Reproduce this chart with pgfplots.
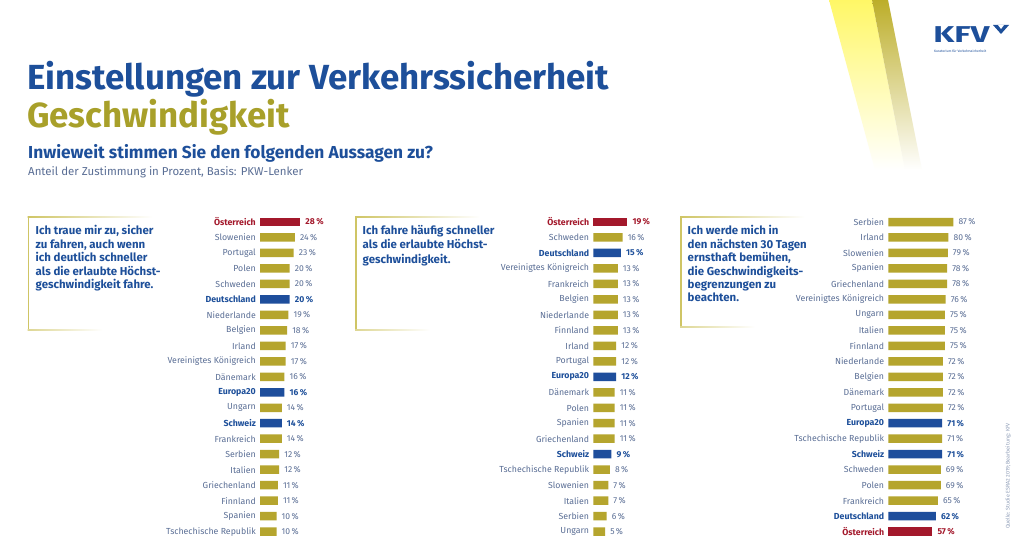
\documentclass[border=0pt]{standalone}
\usepackage{pgfplots}
\pgfplotsset{compat=1.18}
\usepackage{fontspec}
\setmainfont{Fira Sans}
\definecolor{tblue}{HTML}{1D4F9A}
\definecolor{tolive}{HTML}{A8A02A}
\definecolor{barol}{HTML}{B5A52E}
\definecolor{barbl}{HTML}{1E4E9C}
\definecolor{barrd}{HTML}{A3182B}
\definecolor{labgray}{HTML}{5A6E95}
\definecolor{boxol}{HTML}{CFC565}
\newcommand\lblfont{\fontsize{8.8}{10}\selectfont}
\newcommand\valfont{\fontsize{8.6}{10}\selectfont}
\newcommand\HB[1]{{\bfseries\color{tblue}#1}}
\newcommand\HR[1]{{\bfseries\color{barrd}#1}}
\pgfplotsset{
  /pgf/number format/assume math mode=true,
  panel/.style={
    xbar, bar width=8.5bp, y dir=reverse, ymin=-0.5, ymax=20.5, xmin=0,
    y=15.48bp, anchor=north west, clip=false,
    xtick=\empty, ytick={0,...,20}, axis line style={draw=none},
    major tick length=0pt,
    yticklabel style={font=\lblfont, color=labgray, inner sep=0pt, anchor=east, xshift=-4bp},
    point meta=explicit,
  },
  pb/.style={xbar, bar shift=0pt, draw=none, fill=#1,
    nodes near coords={\pgfmathprintnumber{\pgfplotspointmeta}\,\%},
    every node near coord/.style={anchor=west, font=\valfont, color=labgray, inner sep=0pt, xshift=5bp}},
  pbh/.style={pb=#1, every node near coord/.append style={font=\valfont\bfseries, color=tblue}},
  pbr/.style={pb=#1, every node near coord/.append style={font=\valfont\bfseries, color=barrd}},
}
\begin{document}
\begin{tikzpicture}[x=1bp,y=-1bp]
\useasboundingbox[fill=white] (0,0) rectangle (1024,553);
% decorative stripe
\shade[top color=yellow!90!orange!60, bottom color=white] (829,0) -- (872,0) -- (905,170) -- (875,170) -- cycle;
\shade[top color=barol!90!yellow, bottom color=white] (872,0) -- (888,0) -- (922,170) -- (905,170) -- cycle;
% logo
\node[anchor=base west, inner sep=0pt, text=tblue, font=\fontsize{23}{23}\selectfont\bfseries, xscale=1.45] at (933,43) {KFV};
\fill[tblue] (993,25) -- (1009,25) -- (1001,34) -- cycle;
\fill[white] (998,25) -- (1004,25) -- (1001,29) -- cycle;
\node[anchor=base west, inner sep=0pt, text=tblue, font=\fontsize{3.4}{4}\selectfont] at (934,53) {Kuratorium für Verkehrssicherheit};
% titles
\node[anchor=base west, inner sep=0pt, text=tblue, font=\fontsize{35}{38}\selectfont\bfseries] at (27,90) {Einstellungen zur Verkehrssicherheit};
\node[anchor=base west, inner sep=0pt, text=tolive, font=\fontsize{35}{38}\selectfont\bfseries] at (27,128) {Geschwindigkeit};
\node[anchor=base west, inner sep=0pt, text=tblue, font=\fontsize{17.4}{19}\selectfont\bfseries] at (28,159) {Inwieweit stimmen Sie den folgenden Aussagen zu?};
\node[anchor=base west, inner sep=0pt, text=labgray, font=\fontsize{11.5}{13}\selectfont] at (28,176) {Anteil der Zustimmung in Prozent, Basis: PKW-Lenker};
% source
\node[rotate=90, inner sep=0pt, text=labgray!70, font=\fontsize{5.3}{6}\selectfont] at (1008,476) {Quelle: Studie ESRA2 2019; Bearbeitung: KFV};
% boxes
\foreach \bx/\by in {27.5/331, 355/331, 680/328}{
  \fill[boxol] (\bx,216.5) rectangle (\bx+1.5,\by);
  \shade[left color=boxol, right color=white] (\bx,216.5) rectangle (\bx+125,218);
  \shade[left color=boxol!70, right color=white] (\bx,\by-1.5) rectangle (\bx+75,\by);
}
\node[anchor=north west, inner sep=0pt, align=left, text=tblue, font=\fontsize{11.5}{13.4}\selectfont\bfseries] at (35.5,225.5) {Ich traue mir zu, sicher\\zu fahren, auch wenn\\ich deutlich schneller\\als die erlaubte Höchst-\\geschwindigkeit fahre.};
\node[anchor=north west, inner sep=0pt, align=left, text=tblue, font=\fontsize{11.5}{14.2}\selectfont\bfseries] at (362.5,225.5) {Ich fahre häufig schneller\\als die erlaubte Höchst-\\geschwindigkeit.};
\node[anchor=north west, inner sep=0pt, align=left, text=tblue, font=\fontsize{11.5}{13.4}\selectfont\bfseries] at (687.5,225.5) {Ich werde mich in\\den nächsten 30 Tagen\\ernsthaft bemühen,\\die Geschwindigkeits-\\begrenzungen zu\\beachten.};
% panel 1
\begin{axis}[panel, at={(260bp,-214.26bp)}, x=1.32bp, xmax=32,
  yticklabels={\HR{Österreich},Slowenien,Portugal,Polen,Schweden,\HB{Deutschland},Niederlande,Belgien,Irland,Vereinigtes Königreich,Dänemark,\HB{Europa20},Ungarn,\HB{Schweiz},Frankreich,Serbien,Italien,Griechenland,Finnland,Spanien,Tschechische Republik}]
\addplot[pb=barol] table[row sep=\\, x expr=\thisrow{v}+2.5, y=y, meta=v] {y v\\ 1 24\\ 2 23\\ 3 20\\ 4 20\\ 6 19\\ 7 18\\ 8 17\\ 9 17\\ 10 16\\ 12 14\\ 14 14\\ 15 12\\ 16 12\\ 17 11\\ 18 11\\ 19 10\\ 20 10\\};
\addplot[pbh=barbl] table[row sep=\\, x expr=\thisrow{v}+2.5, y=y, meta=v] {y v\\ 5 20\\ 11 16\\ 13 14\\};
\addplot[pbr=barrd] table[row sep=\\, x expr=\thisrow{v}+2.5, y=y, meta=v] {y v\\ 0 28\\};
\end{axis}
% panel 2
\begin{axis}[panel, at={(593.3bp,-214.26bp)}, x=1.59bp, xmax=22,
  yticklabels={\HR{Österreich},Schweden,\HB{Deutschland},Vereinigtes Königreich,Frankreich,Belgien,Niederlande,Finnland,Irland,Portugal,\HB{Europa20},Dänemark,Polen,Spanien,Griechenland,\HB{Schweiz},Tschechische Republik,Slowenien,Italien,Serbien,Ungarn}]
\addplot[pb=barol] table[row sep=\\, x expr=\thisrow{v}+2.4, y=y, meta=v] {y v\\ 1 16\\ 3 13\\ 4 13\\ 5 13\\ 6 13\\ 7 13\\ 8 12\\ 9 12\\ 11 11\\ 12 11\\ 13 11\\ 14 11\\ 16 8\\ 17 7\\ 18 7\\ 19 6\\ 20 5\\};
\addplot[pbh=barbl] table[row sep=\\, x expr=\thisrow{v}+2.4, y=y, meta=v] {y v\\ 2 15\\ 10 12\\ 15 9\\};
\addplot[pbr=barrd] table[row sep=\\, x expr=\thisrow{v}+2.4, y=y, meta=v] {y v\\ 0 19\\};
\end{axis}
% panel 3
\begin{axis}[panel, at={(888.3bp,-214.26bp)}, x=0.70bp, xmax=95,
  yticklabels={Serbien,Irland,Slowenien,Spanien,Griechenland,Vereinigtes Königreich,Ungarn,Italien,Finnland,Niederlande,Belgien,Dänemark,Portugal,\HB{Europa20},Tschechische Republik,\HB{Schweiz},Schweden,Polen,Frankreich,\HB{Deutschland},\HR{Österreich}}]
\addplot[pb=barol] table[row sep=\\, x expr=\thisrow{v}+5.9, y=y, meta=v] {y v\\ 0 87\\ 1 80\\ 2 79\\ 3 78\\ 4 78\\ 5 76\\ 6 75\\ 7 75\\ 8 75\\ 9 72\\ 10 72\\ 11 72\\ 12 72\\ 14 71\\ 16 69\\ 17 69\\ 18 65\\};
\addplot[pbh=barbl] table[row sep=\\, x expr=\thisrow{v}+5.9, y=y, meta=v] {y v\\ 13 71\\ 15 71\\ 19 62\\};
\addplot[pbr=barrd] table[row sep=\\, x expr=\thisrow{v}+5.9, y=y, meta=v] {y v\\ 20 57\\};
\end{axis}
\end{tikzpicture}
\end{document}
